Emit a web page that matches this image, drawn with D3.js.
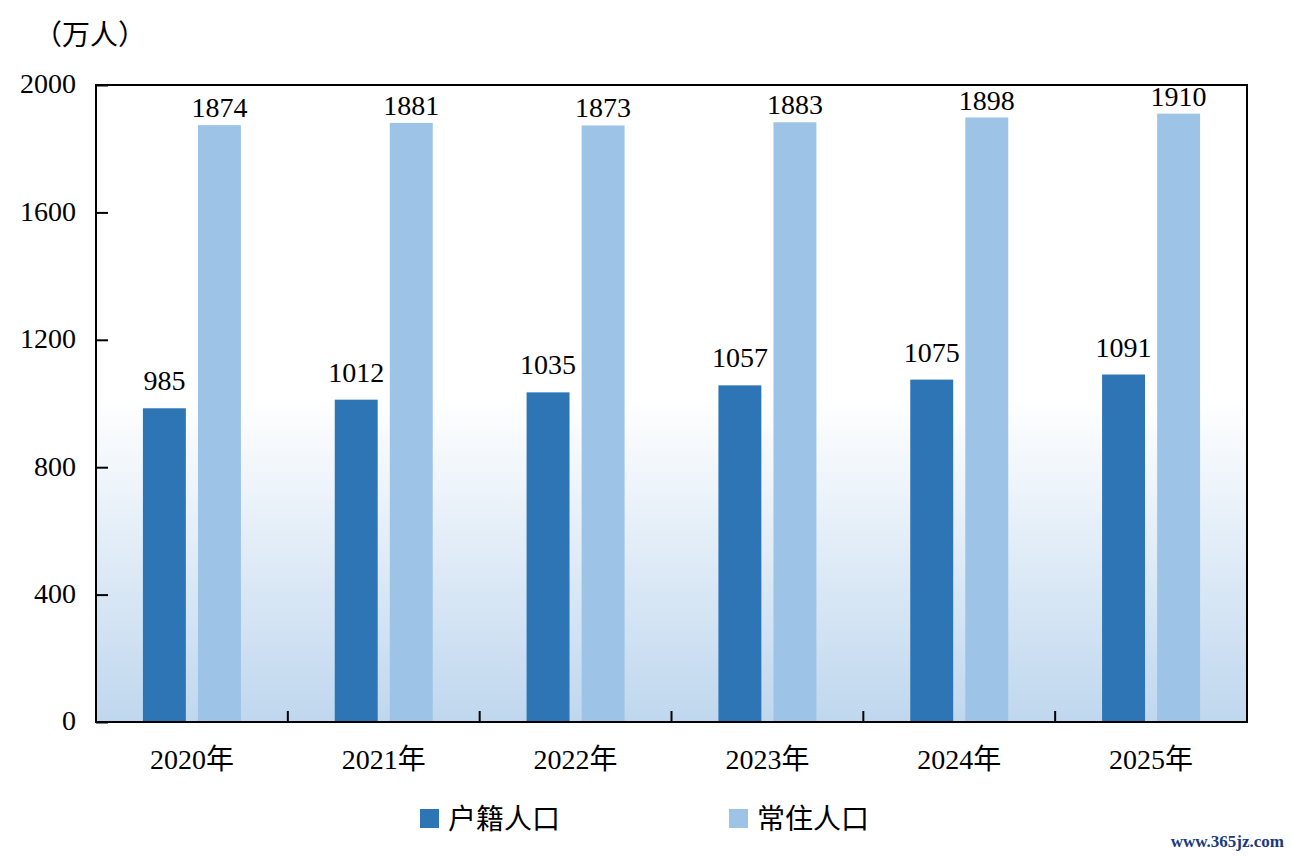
<!DOCTYPE html>
<html>
<head>
<meta charset="utf-8">
<script src="https://cdn.jsdelivr.net/npm/d3@7"></script>
<style>
  body { margin: 0; background: #fff; }
  svg text { font-family: "Liberation Serif", "Noto Sans CJK SC", serif; fill: #000; }
</style>
</head>
<body>
<div id="chart"></div>
<script>
// data
const years = ['2020年', '2021年', '2022年', '2023年', '2024年', '2025年'];
const huji = [985, 1012, 1035, 1057, 1075, 1091];
const changzhu = [1874, 1881, 1873, 1883, 1898, 1910];
const seriesNames = ['户籍人口', '常住人口'];
const yTicks = [0, 400, 800, 1200, 1600, 2000];

const colors = ['#2e75b6', '#9dc3e6'];
const labelGap = [18, 8];

const W = 1292, H = 857;
const margin = { top: 85, right: 45, bottom: 135, left: 96 };
const width = W - margin.left - margin.right;
const height = H - margin.top - margin.bottom;

const svg = d3.select('#chart').append('svg')
    .attr('width', W)
    .attr('height', H);

const defs = svg.append('defs');
const grad = defs.append('linearGradient')
    .attr('id', 'bg')
    .attr('x1', 0).attr('y1', 0).attr('x2', 0).attr('y2', 1);
grad.append('stop').attr('offset', '0%').attr('stop-color', '#ffffff');
grad.append('stop').attr('offset', '49%').attr('stop-color', '#ffffff');
grad.append('stop').attr('offset', '100%').attr('stop-color', '#bfd7ee');

const g = svg.append('g')
    .attr('transform', `translate(${margin.left},${margin.top})`);

g.append('rect')
    .attr('width', width)
    .attr('height', height)
    .attr('fill', 'url(#bg)');

const x0 = d3.scaleBand()
    .domain(years)
    .range([0, width]);

const groupW = 98;
const x1 = d3.scaleBand()
    .domain([0, 1])
    .range([0, groupW])
    .paddingInner(0.22);

const y = d3.scaleLinear()
    .domain([0, 2000])
    .range([height, 0]);

const data = years.map((yr, i) => ({ year: yr, values: [huji[i], changzhu[i]] }));

const groups = g.selectAll('.grp')
    .data(data)
    .enter().append('g')
    .attr('class', 'grp')
    .attr('transform', d => `translate(${x0(d.year) + (x0.bandwidth() - groupW) / 2},0)`);

groups.selectAll('rect')
    .data(d => d.values.map((v, k) => ({ k: k, v: v })))
    .enter().append('rect')
    .attr('x', d => x1(d.k))
    .attr('y', d => y(d.v))
    .attr('width', x1.bandwidth())
    .attr('height', d => height - y(d.v))
    .attr('fill', d => colors[d.k]);

groups.selectAll('.lbl')
    .data(d => d.values.map((v, k) => ({ k: k, v: v })))
    .enter().append('text')
    .attr('class', 'lbl')
    .attr('x', d => x1(d.k) + x1.bandwidth() / 2)
    .attr('y', d => y(d.v) - labelGap[d.k])
    .attr('text-anchor', 'middle')
    .attr('font-size', 28)
    .text(d => d.v);

// frame
g.append('rect')
    .attr('width', width)
    .attr('height', height)
    .attr('fill', 'none')
    .attr('stroke', '#000')
    .attr('stroke-width', 2);

// y axis, ticks pointing inward
const yAxis = g.append('g')
    .call(d3.axisRight(y).tickValues(yTicks).tickSize(12).tickFormat(''));
yAxis.select('.domain').remove();
yAxis.selectAll('line').attr('stroke', '#000').attr('stroke-width', 2);

g.selectAll('.ylbl')
    .data(yTicks)
    .enter().append('text')
    .attr('class', 'ylbl')
    .attr('x', -20)
    .attr('y', d => y(d))
    .attr('dy', '0.3em')
    .attr('text-anchor', 'end')
    .attr('font-size', 28)
    .text(d => d);

// x axis: boundary ticks pointing up
g.selectAll('.xtick')
    .data(years.slice(1))
    .enter().append('line')
    .attr('class', 'xtick')
    .attr('x1', d => x0(d))
    .attr('x2', d => x0(d))
    .attr('y1', height)
    .attr('y2', height - 11)
    .attr('stroke', '#000')
    .attr('stroke-width', 2);

g.selectAll('.xlbl')
    .data(years)
    .enter().append('text')
    .attr('class', 'xlbl')
    .attr('x', d => x0(d) + x0.bandwidth() / 2)
    .attr('y', height + 47)
    .attr('text-anchor', 'middle')
    .attr('font-size', 28)
    .text(d => d);

// unit
svg.append('text')
    .attr('x', 34)
    .attr('y', 45)
    .attr('font-size', 28)
    .text('（万人）');

// legend
const legendX = [420, 729];
const legend = svg.selectAll('.leg')
    .data(seriesNames)
    .enter().append('g')
    .attr('class', 'leg')
    .attr('transform', (d, i) => `translate(${legendX[i]},809)`);
legend.append('rect')
    .attr('width', 19)
    .attr('height', 19)
    .attr('fill', (d, i) => colors[i]);
legend.append('text')
    .attr('x', 28)
    .attr('y', 10)
    .attr('dy', '0.35em')
    .attr('font-size', 28)
    .text(d => d);

// watermark
svg.append('text')
    .attr('x', 1284)
    .attr('y', 847)
    .attr('text-anchor', 'end')
    .attr('font-size', 17)
    .attr('font-weight', 'bold')
    .style('fill', '#1a3a80')
    .text('www.365jz.com');
</script>
</body>
</html>
